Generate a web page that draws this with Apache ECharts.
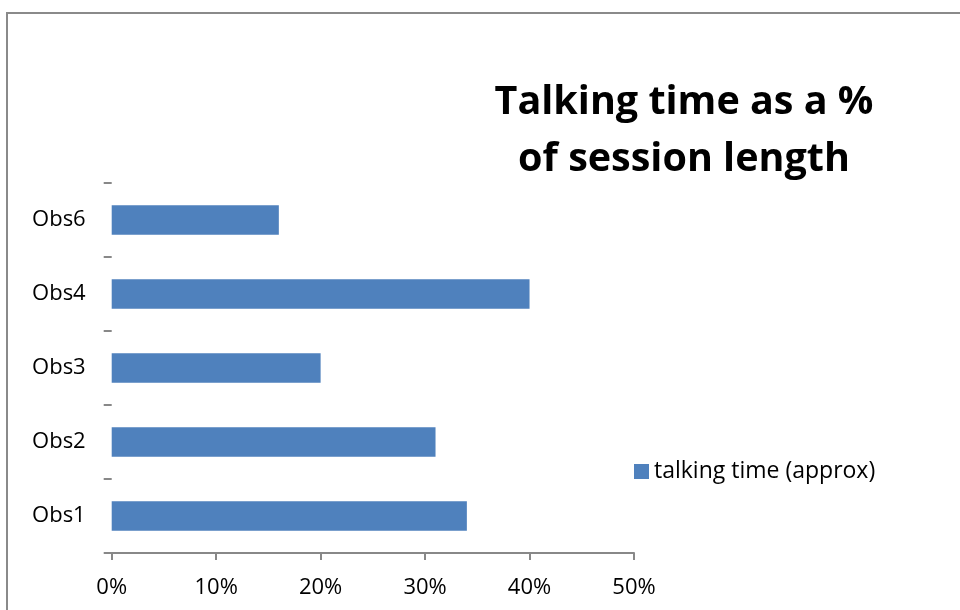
<!DOCTYPE html>
<html><head><meta charset="utf-8">
<script src="https://cdn.jsdelivr.net/npm/echarts@6/dist/echarts.min.js"></script>
<style>html,body{margin:0;padding:0;background:#fff}#c{width:960px;height:610px}</style>
</head><body><div id="c"></div>
<script>
const categories = ['Obs1','Obs2','Obs3','Obs4','Obs6'];
const talkingTime = [34, 31, 20, 40, 16];
const xTicks = [0, 10, 20, 30, 40, 50];
const seriesName = 'talking time (approx)';
const titleText = 'Talking time as a %\nof session length';

const FONT = '"Open Sans", Calibri, sans-serif';
const chart = echarts.init(document.getElementById('c'));
chart.setOption({
  backgroundColor: '#fff',
  animation: false,
  graphic: [{
    type: 'rect', shape: {x: 7, y: 13, width: 1000, height: 700},
    style: {fill: 'none', stroke: '#8a8a8a', lineWidth: 2}, silent: true
  }],
  title: {
    text: titleText, left: 679, top: 69, textAlign: 'center',
    textStyle: {fontFamily: FONT, fontWeight: 'bold', fontSize: 39.5, lineHeight: 57, color: '#000'}
  },
  legend: {
    data: [seriesName], left: 629, top: 455, itemWidth: 15, itemHeight: 15, itemGap: 6,
    icon: 'rect',
    textStyle: {fontFamily: FONT, fontSize: 23, color: '#000'}
  },
  grid: {left: 111.7, right: 326, top: 183, bottom: 57, containLabel: false},
  xAxis: {
    type: 'value', min: xTicks[0], max: xTicks[xTicks.length-1], interval: 10,
    axisLine: {show: true, lineStyle: {color: '#888', width: 2}},
    axisTick: {show: true, length: 7, lineStyle: {color: '#888', width: 2}},
    splitLine: {show: false},
    axisLabel: {formatter: v => v + '%', fontFamily: FONT, fontSize: 22, color: '#000', margin: 24}
  },
  yAxis: {
    type: 'category', data: categories,
    axisLine: {show: false},
    axisTick: {show: true, length: 8, inside: false, lineStyle: {color: '#888', width: 2}},
    axisLabel: {fontFamily: FONT, fontSize: 22, color: '#000', margin: 26, padding: [4, 0, 0, 0]}
  },
  series: [{
    name: seriesName, type: 'bar', data: talkingTime, barWidth: '40%',
    itemStyle: {color: '#4F81BD'}
  }]
});
</script></body></html>
